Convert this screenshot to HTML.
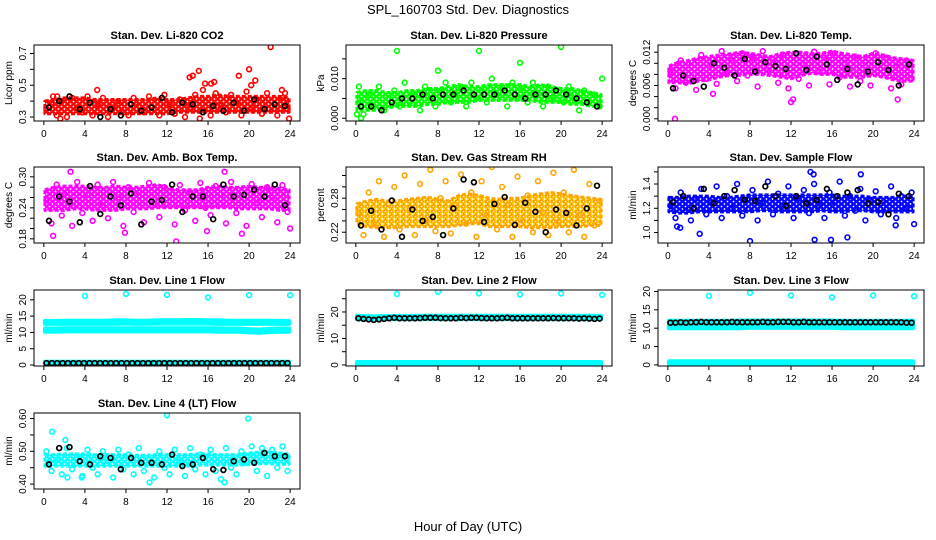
<!DOCTYPE html>
<html><head><meta charset="utf-8"><title>SPL_160703 Std. Dev. Diagnostics</title>
<style>
html,body{margin:0;padding:0;background:#fff;}
svg{display:block;font-family:"Liberation Sans",Arial,sans-serif;}
</style></head>
<body>
<svg id="chart" width="936" height="540" viewBox="0 0 936 540">
<defs id="defs"></defs>
<rect width="936" height="540" fill="#fff"/>
<text x="468" y="14" text-anchor="middle" font-size="13">SPL_160703  Std. Dev. Diagnostics</text>
<text x="468" y="531" text-anchor="middle" font-size="13">Hour of Day (UTC)</text>
</svg>
<script>
// ---- shared
const xTicks = [0,4,8,12,16,20,24];
const bandHours = [0,1,2,3,4,5,6,7,8,9,10,11,12,13,14,15,16,17,18,19,20,21,22,23,24];

// ---- CO2
const co2Lo = [0.32,0.32,0.32,0.32,0.32,0.32,0.32,0.32,0.32,0.32,0.32,0.32,0.32,0.33,0.33,0.33,0.33,0.33,0.33,0.33,0.33,0.33,0.33,0.33,0.33];
const co2Hi = [0.40,0.41,0.42,0.42,0.42,0.41,0.41,0.41,0.41,0.41,0.41,0.42,0.41,0.41,0.42,0.43,0.43,0.44,0.43,0.43,0.43,0.43,0.43,0.43,0.42];
const co2Pts = [0.35,0.39,0.31,0.40,0.30,0.42,0.36,0.33,0.43,0.31,0.38,0.42,0.30,0.36,0.40,0.33,0.31,0.42,0.37,0.33,0.43,0.35,0.31,0.44,0.38,0.32,0.41,0.30,0.36,0.44,0.34,0.40,0.31,0.45,0.37,0.33,0.44,0.39,0.31,0.46,0.36,0.41,0.32,0.45,0.37,0.31,0.42,0.35];
const co2Blk = [0.36,0.40,0.43,0.35,0.39,0.30,0.35,0.31,0.38,0.34,0.36,0.42,0.33,0.39,0.38,0.33,0.37,0.34,0.39,0.34,0.41,0.35,0.38,0.37];
const co2OutX = [5.2,14.2,14.5,15.1,15.5,15.7,16.3,16.6,19.0,20.0,20.2,20.6,22.1,23.2,23.5,0.9,1.3,23.9,15.2,1.6];
const co2OutY = [0.47,0.55,0.56,0.59,0.47,0.51,0.51,0.52,0.56,0.60,0.50,0.53,0.74,0.47,0.45,0.43,0.43,0.29,0.29,0.29];
const co2Ticks = [0.3,0.4,0.5,0.6,0.7];
const co2Labels = ["0.3","","0.5","","0.7"];

// ---- Pressure
const prLo = [0.002,0.002,0.002,0.0025,0.003,0.003,0.003,0.0035,0.0035,0.004,0.004,0.004,0.0045,0.0045,0.0045,0.0045,0.0045,0.0045,0.004,0.004,0.004,0.0035,0.0035,0.003,0.003];
const prHi = [0.0065,0.007,0.007,0.0065,0.0065,0.007,0.007,0.0075,0.0075,0.008,0.0085,0.008,0.008,0.0085,0.0085,0.0085,0.0085,0.008,0.0085,0.008,0.0075,0.0075,0.007,0.0065,0.006];
const prPts = [0.004,0.001,0.006,0.003,0.008,0.002,0.005,0.007,0.003,0.009,0.004,0.006,0.002,0.008,0.005,0.003,0.007,0.009,0.004,0.006,0.008,0.003,0.009,0.005,0.007,0.004,0.010,0.006,0.008,0.003,0.009,0.005,0.007,0.004,0.009,0.006,0.003,0.008,0.005,0.007,0.004,0.008,0.006,0.002,0.007,0.004,0.006,0.003];
const prBlk = [0.003,0.003,0.002,0.004,0.005,0.005,0.006,0.005,0.006,0.006,0.007,0.006,0.006,0.006,0.007,0.006,0.005,0.006,0.006,0.007,0.006,0.005,0.004,0.003];
const prOutX = [0.3,0.5,4,8,12,16,20,24,0.1];
const prOutY = [0.008,0.0,0.017,0.012,0.017,0.014,0.018,0.010,0.001];
const prTicks = [0,0.005,0.010,0.015];
const prLabels = ["0.000","","0.010",""];

// ---- Li-820 Temp
const tpLo = [0.0065,0.0065,0.0063,0.0068,0.007,0.0075,0.0078,0.0078,0.008,0.008,0.0078,0.0075,0.0072,0.0078,0.0082,0.008,0.008,0.0075,0.0075,0.0075,0.0078,0.0075,0.007,0.0068,0.0068];
const tpHi = [0.0095,0.0102,0.0105,0.011,0.0112,0.0115,0.0117,0.012,0.0118,0.0115,0.0112,0.0118,0.012,0.012,0.0118,0.0118,0.0122,0.0118,0.0115,0.0112,0.0118,0.0115,0.011,0.0108,0.0105];
const tpPts = [0.0085,0.0055,0.0105,0.0065,0.0095,0.0052,0.0115,0.0072,0.0098,0.0063,0.0122,0.0082,0.0105,0.0068,0.0118,0.0078,0.0108,0.0058,0.0122,0.0088,0.0102,0.0065,0.0115,0.0055,0.0112,0.0072,0.0098,0.0060,0.0121,0.0085,0.0110,0.0062,0.0118,0.0075,0.0106,0.0058,0.0112,0.0068,0.0102,0.0060,0.0118,0.0080,0.0110,0.0055,0.0095,0.0062,0.0105,0.0072];
const tpBlk = [0.0055,0.0078,0.0068,0.0058,0.0100,0.0092,0.0078,0.0108,0.0085,0.0102,0.0095,0.0090,0.0118,0.0088,0.0112,0.0098,0.0070,0.0090,0.0062,0.0085,0.0102,0.0088,0.0060,0.0098];
const tpOutX = [0.7,12.0,12.2,4.4,22.4];
const tpOutY = [0.0,0.0030,0.0035,0.0045,0.0035];
const tpTicks = [0,0.002,0.004,0.006,0.008,0.010,0.012];
const tpLabels = ["0.000","","","0.006","","","0.012"];

// ---- Amb box temp
const abLo = [0.235,0.235,0.235,0.238,0.238,0.235,0.235,0.235,0.238,0.238,0.238,0.24,0.24,0.24,0.24,0.24,0.24,0.24,0.24,0.238,0.238,0.238,0.238,0.235,0.235];
const abHi = [0.275,0.28,0.282,0.282,0.282,0.28,0.28,0.282,0.28,0.28,0.282,0.285,0.28,0.275,0.275,0.275,0.28,0.282,0.28,0.28,0.282,0.28,0.28,0.278,0.275];
const abPts = [0.255,0.21,0.285,0.225,0.27,0.205,0.29,0.23,0.265,0.215,0.285,0.245,0.22,0.29,0.26,0.205,0.28,0.232,0.27,0.212,0.288,0.25,0.222,0.28,0.262,0.208,0.284,0.235,0.27,0.215,0.288,0.24,0.226,0.282,0.258,0.21,0.29,0.23,0.27,0.205,0.286,0.25,0.222,0.28,0.26,0.212,0.284,0.232];
const abBlk = [0.215,0.262,0.252,0.212,0.282,0.228,0.262,0.245,0.268,0.208,0.252,0.255,0.285,0.232,0.262,0.262,0.218,0.285,0.262,0.265,0.275,0.262,0.285,0.245];
const abOutX = [0.9,2.6,12.9,17.6,19.3,24.0,15.9,7.9];
const abOutY = [0.186,0.310,0.175,0.310,0.190,0.200,0.195,0.192];
const abTicks = [0.18,0.20,0.22,0.24,0.26,0.28,0.30];
const abLabels = ["0.18","","","0.24","","","0.30"];

// ---- Gas stream RH
const rhLo = [0.235,0.23,0.228,0.228,0.228,0.23,0.23,0.23,0.23,0.23,0.232,0.235,0.235,0.23,0.23,0.23,0.23,0.228,0.228,0.228,0.23,0.23,0.23,0.232,0.232];
const rhHi = [0.27,0.275,0.278,0.275,0.275,0.278,0.28,0.282,0.278,0.275,0.285,0.288,0.285,0.28,0.278,0.28,0.28,0.285,0.288,0.29,0.288,0.285,0.282,0.28,0.278];
const rhPts = [0.255,0.215,0.29,0.235,0.31,0.212,0.27,0.3,0.225,0.32,0.26,0.215,0.305,0.24,0.33,0.222,0.28,0.31,0.218,0.268,0.322,0.235,0.29,0.212,0.31,0.25,0.335,0.225,0.3,0.268,0.212,0.318,0.24,0.285,0.22,0.31,0.255,0.215,0.325,0.238,0.29,0.22,0.33,0.25,0.212,0.305,0.232,0.275];
const rhBlk = [0.232,0.258,0.225,0.276,0.212,0.26,0.24,0.247,0.215,0.262,0.313,0.308,0.238,0.27,0.282,0.233,0.272,0.256,0.22,0.26,0.254,0.232,0.262,0.302];
const rhOutX = [];
const rhOutY = [];
const rhTicks = [0.22,0.24,0.26,0.28,0.30,0.32];
const rhLabels = ["0.22","","","0.28","",""];

// ---- Sample flow
const sfLo = [1.17,1.16,1.16,1.17,1.17,1.17,1.17,1.17,1.17,1.18,1.18,1.17,1.17,1.17,1.17,1.18,1.17,1.17,1.18,1.18,1.17,1.17,1.17,1.17,1.17];
const sfHi = [1.29,1.29,1.30,1.30,1.30,1.29,1.29,1.30,1.31,1.31,1.31,1.31,1.31,1.31,1.31,1.31,1.31,1.30,1.30,1.30,1.29,1.29,1.29,1.30,1.30];
const sfPts = [1.22,1.12,1.33,1.18,1.10,1.28,1.36,1.15,1.25,1.38,1.12,1.30,1.20,1.40,1.14,1.27,1.35,1.10,1.24,1.42,1.15,1.32,1.20,1.38,1.12,1.28,1.35,1.16,1.40,1.22,1.12,1.33,1.25,1.42,1.14,1.30,1.18,1.36,1.10,1.27,1.34,1.15,1.24,1.38,1.12,1.30,1.20,1.33];
const sfBlk = [1.25,1.30,1.20,1.36,1.24,1.30,1.35,1.27,1.26,1.38,1.30,1.22,1.30,1.24,1.27,1.36,1.30,1.33,1.35,1.24,1.25,1.15,1.32,1.30];
const sfOutX = [0.9,1.2,3.1,8.0,13.9,14.3,15.9,14.2,18.8,17.5,22.2,24.0];
const sfOutY = [1.05,1.04,0.99,0.93,1.50,0.94,0.94,1.48,1.48,0.96,1.06,1.07];
const sfTicks = [1.0,1.1,1.2,1.3,1.4,1.5];
const sfLabels = ["1.0","","1.2","","1.4",""];

// ---- Line 1 flow
const l1HiLo = [12.6,12.6,12.6,12.6,12.6,12.6,12.6,12.6,12.7,12.6,12.6,12.7,12.7,12.7,12.7,12.7,12.7,12.6,12.6,12.6,12.6,12.6,12.6,12.6,12.6];
const l1HiHi = [13.5,13.5,13.6,13.6,13.6,13.6,13.6,13.7,13.7,13.6,13.6,13.7,13.7,13.7,13.8,13.8,13.7,13.7,13.6,13.6,13.6,13.6,13.6,13.6,13.5];
const l1MidLo = [10.2,10.2,10.3,10.3,10.3,10.3,10.3,10.3,10.3,10.3,10.3,10.3,10.3,10.3,10.3,10.3,10.3,10.2,10.2,10.2,10.0,9.9,10.1,10.2,10.2];
const l1MidHi = [11.2,11.2,11.3,11.3,11.3,11.3,11.3,11.3,11.3,11.3,11.3,11.3,11.3,11.3,11.3,11.3,11.3,11.3,11.2,11.2,11.0,10.9,11.1,11.2,11.2];
const l1LowLo = [0.3,0.3,0.3,0.3,0.3,0.3,0.3,0.3,0.3,0.3,0.3,0.3,0.3,0.3,0.3,0.3,0.3,0.3,0.3,0.3,0.3,0.3,0.3,0.3,0.3];
const l1LowHi = [1.0,1.0,1.0,1.0,1.0,1.0,1.0,1.0,1.0,1.0,1.0,1.0,1.0,1.0,1.0,1.0,1.0,1.0,1.0,1.0,1.0,1.0,1.0,1.0,1.0];
const l1Blk = [0.6,0.6,0.6,0.6,0.6,0.6,0.6,0.6,0.6,0.6,0.6,0.6,0.6,0.6,0.6,0.6,0.6,0.6,0.6,0.6,0.6,0.6,0.6,0.6,0.6,0.6,0.6,0.6,0.6,0.6,0.6,0.6,0.6,0.6,0.6,0.6,0.6,0.6,0.6,0.6,0.6,0.6,0.6,0.6,0.6,0.6];
const l1OutX = [4,8,12,16,20,24];
const l1OutY = [21.2,21.8,21.5,20.7,21.4,21.4];
const l1Ticks = [0,5,10,15,20];
const l1Labels = ["0","5","10","15","20"];

// ---- Line 2 flow
const l2HiLo = [17.3,17.3,17.3,17.3,17.3,17.3,17.3,17.3,17.3,17.3,17.3,17.3,17.3,17.3,17.3,17.3,17.3,17.3,17.3,17.3,17.3,17.3,17.3,17.3,17.3];
const l2HiHi = [18.6,18.4,18.4,18.5,18.5,18.5,18.6,18.6,18.6,18.6,18.6,18.6,18.6,18.6,18.6,18.6,18.6,18.6,18.6,18.6,18.6,18.6,18.6,18.6,18.5];
const l2LowLo = [0.3,0.3,0.3,0.3,0.3,0.3,0.3,0.3,0.3,0.3,0.3,0.3,0.3,0.3,0.3,0.3,0.3,0.3,0.3,0.3,0.3,0.3,0.3,0.3,0.3];
const l2LowHi = [1.1,1.1,1.1,1.1,1.1,1.1,1.1,1.1,1.1,1.1,1.1,1.1,1.1,1.1,1.1,1.1,1.1,1.1,1.1,1.1,1.1,1.1,1.1,1.1,1.1];
const l2Blk = [17.6,17.4,17.2,17.0,17.2,17.4,17.6,17.8,17.6,17.6,17.6,17.6,17.7,17.8,17.8,17.8,17.7,17.6,17.6,17.6,17.8,17.7,17.8,17.8,17.7,17.6,17.6,17.6,17.7,17.8,17.6,17.6,17.6,17.6,17.6,17.6,17.6,17.6,17.7,17.6,17.6,17.6,17.6,17.5,17.6,17.5,17.4,17.5];
const l2OutX = [4,8,12,16,20,24];
const l2OutY = [26.8,27.6,27.0,26.6,27.0,26.5];
const l2Ticks = [0,5,10,15,20,25];
const l2Labels = ["0","","10","","20",""];

// ---- Line 3 flow
const l3HiLo = [10.0,10.0,10.0,10.0,10.0,10.0,10.0,10.0,10.1,10.1,10.1,10.1,10.1,10.1,10.1,10.1,10.1,10.0,10.0,10.0,10.0,10.0,10.0,10.0,10.0];
const l3HiHi = [12.0,12.0,12.0,12.0,12.0,12.0,12.0,12.1,12.1,12.1,12.1,12.1,12.1,12.1,12.1,12.1,12.1,12.0,12.0,12.0,12.0,12.0,12.0,12.0,12.0];
const l3LowLo = [0.3,0.3,0.3,0.3,0.3,0.3,0.3,0.3,0.3,0.3,0.3,0.3,0.3,0.3,0.3,0.3,0.3,0.3,0.3,0.3,0.3,0.3,0.3,0.3,0.3];
const l3LowHi = [1.0,1.0,1.0,1.0,1.0,1.0,1.0,1.0,1.0,1.0,1.0,1.0,1.0,1.0,1.0,1.0,1.0,1.0,1.0,1.0,1.0,1.0,1.0,1.0,1.0];
const l3Blk = [11.5,11.5,11.6,11.5,11.6,11.6,11.7,11.6,11.6,11.6,11.6,11.6,11.7,11.6,11.6,11.6,11.6,11.6,11.7,11.6,11.6,11.7,11.7,11.7,11.6,11.6,11.7,11.6,11.6,11.6,11.6,11.6,11.6,11.6,11.6,11.6,11.6,11.6,11.6,11.6,11.6,11.6,11.6,11.6,11.6,11.6,11.5,11.5];
const l3OutX = [4,8,12,16,20,24];
const l3OutY = [18.8,19.6,18.9,18.4,18.9,18.7];
const l3Ticks = [0,5,10,15,20];
const l3Labels = ["0","5","10","15","20"];

// ---- Line 4 (LT) flow
const l4Lo = [0.455,0.455,0.455,0.455,0.455,0.455,0.455,0.455,0.455,0.455,0.455,0.455,0.455,0.455,0.455,0.458,0.458,0.458,0.458,0.458,0.46,0.462,0.462,0.46,0.46];
const l4Hi = [0.49,0.49,0.492,0.492,0.492,0.49,0.49,0.49,0.49,0.488,0.488,0.49,0.49,0.49,0.49,0.492,0.492,0.49,0.49,0.49,0.495,0.498,0.498,0.495,0.492];
const l4Pts = [0.50,0.44,0.475,0.43,0.51,0.445,0.48,0.425,0.505,0.45,0.43,0.50,0.47,0.42,0.505,0.445,0.49,0.43,0.51,0.44,0.475,0.42,0.50,0.45,0.43,0.505,0.47,0.425,0.51,0.445,0.49,0.43,0.505,0.44,0.415,0.51,0.45,0.43,0.50,0.465,0.515,0.44,0.51,0.425,0.505,0.45,0.515,0.44];
const l4Blk = [0.46,0.51,0.513,0.47,0.46,0.485,0.48,0.445,0.48,0.465,0.465,0.46,0.49,0.455,0.46,0.48,0.445,0.443,0.47,0.475,0.465,0.495,0.485,0.485];
const l4OutX = [0.8,2.1,12.0,19.9,10.3,17.6,2.3,3.7];
const l4OutY = [0.560,0.535,0.610,0.600,0.405,0.405,0.420,0.420];
const l4Ticks = [0.40,0.45,0.50,0.55,0.60];
const l4Labels = ["0.40","","0.50","","0.60"];

// ---- layout (not data)
const colLeft = [34,346,658];
const rowTop = [45,167,290,413];
const PW = 266, PH = 76;
const XMIN = -0.96, XMAX = 24.96;

const panels = [
 {name:'co2', title:'Stan. Dev. Li-820 CO2', ylab:'Licor ppm', c:0, r:0, ymin:0.275, ymax:0.753, color:'#ff0000', bands:[[co2Lo,co2Hi]], pts:co2Pts, blk:co2Blk, ox:co2OutX, oy:co2OutY, ticks:co2Ticks, labels:co2Labels},
 {name:'pressure', title:'Stan. Dev. Li-820 Pressure', ylab:'kPa', c:1, r:0, ymin:-0.0007, ymax:0.0185, color:'#00ff00', bands:[[prLo,prHi]], pts:prPts, blk:prBlk, ox:prOutX, oy:prOutY, ticks:prTicks, labels:prLabels},
 {name:'li820-temp', title:'Stan. Dev. Li-820 Temp.', ylab:'degrees C', c:2, r:0, ymin:-0.0004, ymax:0.0133, color:'#ff00ff', bands:[[tpLo,tpHi]], pts:tpPts, blk:tpBlk, ox:tpOutX, oy:tpOutY, ticks:tpTicks, labels:tpLabels},
 {name:'amb-box-temp', title:'Stan. Dev. Amb. Box Temp.', ylab:'degrees C', c:0, r:1, ymin:0.172, ymax:0.319, color:'#ff00ff', bands:[[abLo,abHi]], pts:abPts, blk:abBlk, ox:abOutX, oy:abOutY, ticks:abTicks, labels:abLabels},
 {name:'gas-stream-rh', title:'Stan. Dev. Gas Stream RH', ylab:'percent', c:1, r:1, ymin:0.201, ymax:0.335, color:'#ffa500', rh:true, bands:[[rhLo,rhHi]], pts:rhPts, blk:rhBlk, ox:rhOutX, oy:rhOutY, ticks:rhTicks, labels:rhLabels},
 {name:'sample-flow', title:'Stan. Dev. Sample Flow', ylab:'ml/min', c:2, r:1, ymin:0.914, ymax:1.54, color:'#0000ff', bands:[[sfLo,sfHi]], pts:sfPts, blk:sfBlk, ox:sfOutX, oy:sfOutY, ticks:sfTicks, labels:sfLabels},
 {name:'line1-flow', title:'Stan. Dev. Line 1 Flow', ylab:'ml/min', c:0, r:2, ymin:-0.3, ymax:23.0, color:'#00ffff', solid:true, bands:[[l1HiLo,l1HiHi],[l1MidLo,l1MidHi],[l1LowLo,l1LowHi]], pts:[], blk:l1Blk, ox:l1OutX, oy:l1OutY, ticks:l1Ticks, labels:l1Labels},
 {name:'line2-flow', title:'Stan. Dev. Line 2 Flow', ylab:'ml/min', c:1, r:2, ymin:-0.4, ymax:28.3, color:'#00ffff', solid:true, bands:[[l2HiLo,l2HiHi],[l2LowLo,l2LowHi]], pts:[], blk:l2Blk, ox:l2OutX, oy:l2OutY, ticks:l2Ticks, labels:l2Labels},
 {name:'line3-flow', title:'Stan. Dev. Line 3 Flow', ylab:'ml/min', c:2, r:2, ymin:-0.3, ymax:20.4, color:'#00ffff', solid:true, bands:[[l3HiLo,l3HiHi],[l3LowLo,l3LowHi]], pts:[], blk:l3Blk, ox:l3OutX, oy:l3OutY, ticks:l3Ticks, labels:l3Labels},
 {name:'line4-flow', title:'Stan. Dev. Line 4 (LT) Flow', ylab:'ml/min', c:0, r:3, ymin:0.385, ymax:0.617, color:'#00ffff', bands:[[l4Lo,l4Hi]], pts:l4Pts, blk:l4Blk, ox:l4OutX, oy:l4OutY, ticks:l4Ticks, labels:l4Labels}
];

const NS = 'http://www.w3.org/2000/svg';
const svg = document.getElementById('chart');
const defs = document.getElementById('defs');
function mk(tag, attrs, parent){
  const e = document.createElementNS(NS, tag);
  for (const k in attrs) e.setAttribute(k, attrs[k]);
  parent.appendChild(e);
  return e;
}

// speckle patterns imitating overlapping open circles
function makePattern(id, c1, c2){
  const pt = mk('pattern', {id: id, width: 6, height: 5, patternUnits: 'userSpaceOnUse'}, defs);
  mk('rect', {width: 6, height: 5, fill: '#fff'}, pt);
  mk('circle', {cx: 1.5, cy: 1.5, r: 1.7, fill: 'none', stroke: c1, 'stroke-width': 1.6}, pt);
  mk('circle', {cx: 4.5, cy: 4, r: 1.7, fill: 'none', stroke: c2, 'stroke-width': 1.6}, pt);
  mk('circle', {cx: 4.5, cy: -1, r: 1.7, fill: 'none', stroke: c2, 'stroke-width': 1.6}, pt);
  mk('circle', {cx: 1.5, cy: 6.5, r: 1.7, fill: 'none', stroke: c1, 'stroke-width': 1.6}, pt);
  mk('circle', {cx: -1.5, cy: 4, r: 1.7, fill: 'none', stroke: c2, 'stroke-width': 1.6}, pt);
  mk('circle', {cx: 7.5, cy: 1.5, r: 1.7, fill: 'none', stroke: c1, 'stroke-width': 1.6}, pt);
}

panels.forEach(p => {
  const L = colLeft[p.c], T = rowTop[p.r];
  const sx = h => L + (h - XMIN) / (XMAX - XMIN) * PW;
  const sy = v => T + (p.ymax - v) / (p.ymax - p.ymin) * PH;
  let fill = p.color;
  if (!p.solid) {
    const pid = 'pat-' + p.name;
    if (p.rh) makePattern(pid, '#ff8c00', '#ffd700'); else makePattern(pid, p.color, p.color);
    fill = 'url(#' + pid + ')';
  }
  const g = mk('g', {}, svg);
  
  

  const clipId = 'clip-' + p.name;
  const cp = mk('clipPath', {id: clipId}, g);
  mk('rect', {x: L, y: T, width: PW, height: PH}, cp);
  const plot = mk('g', {'clip-path': 'url(#' + clipId + ')'}, g);
  
  

  p.bands.forEach((b, bi) => {
    const lo = b[0], hi = b[1];
    let d = '';
    bandHours.forEach((h, i) => { const x = Math.min(Math.max(h, 0.1), 23.9); d += (i ? 'L' : 'M') + sx(x).toFixed(1) + ',' + sy(hi[i]).toFixed(1); });
    for (let i = bandHours.length - 1; i >= 0; i--) { const x = Math.min(Math.max(bandHours[i], 0.1), 23.9); d += 'L' + sx(x).toFixed(1) + ',' + sy(lo[i]).toFixed(1); }
    d += 'Z';
    const band = mk('path', {d: d, fill: fill, stroke: p.rh ? '#ffa500' : p.color, 'stroke-width': p.solid ? 4 : 3, 'stroke-linejoin': 'round', 'stroke-dasharray': p.solid ? 'none' : '4 2'}, plot);
    
    
  });

  p.pts.forEach((v, i) => {
    const h = (i + 0.5) * 24 / p.pts.length;
    const c = mk('circle', {cx: sx(h).toFixed(1), cy: sy(v).toFixed(1), r: 2.4, fill: 'none', stroke: p.color, 'stroke-width': 1.6}, plot);
    
    
  });
  p.ox.forEach((h, i) => {
    const c = mk('circle', {cx: sx(h).toFixed(1), cy: sy(p.oy[i]).toFixed(1), r: 2.4, fill: 'none', stroke: p.color, 'stroke-width': 1.6}, plot);
    
    
  });
  p.blk.forEach((v, i) => {
    const h = (i + 0.5) * 24 / p.blk.length;
    const c = mk('circle', {cx: sx(h).toFixed(1), cy: sy(v).toFixed(1), r: 2.4, fill: 'none', stroke: '#000', 'stroke-width': 1.7}, plot);
    
    
  });

  const fr = mk('rect', {x: L, y: T, width: PW, height: PH, fill: 'none', stroke: '#000', 'stroke-width': 1}, g);
  
  

  const tt = mk('text', {x: L + PW / 2, y: T - 6, 'text-anchor': 'middle', 'font-size': 11, 'font-weight': 'bold'}, g);
  tt.textContent = p.title;
  
  

  const xa = mk('g', {}, g);
  
  
  const B = T + PH;
  mk('line', {x1: sx(xTicks[0]), x2: sx(xTicks[xTicks.length - 1]), y1: B, y2: B, stroke: '#000'}, xa);
  xTicks.forEach(t => {
    mk('line', {x1: sx(t), x2: sx(t), y1: B, y2: B + 4, stroke: '#000'}, xa);
    const lt = mk('text', {x: sx(t), y: B + 16, 'text-anchor': 'middle', 'font-size': 10}, xa);
    lt.textContent = t;
    
    
  });

  const ya = mk('g', {}, g);
  
  
  p.ticks.forEach((t, i) => {
    const y = sy(t);
    if (y < T - 0.5 || y > B + 0.5) return;
    mk('line', {x1: L - 4, x2: L, y1: y, y2: y, stroke: '#000'}, ya);
    if (p.labels[i]) {
      const lx = L - 8;
      const lt = mk('text', {x: lx, y: y, 'text-anchor': 'middle', 'font-size': 10, transform: 'rotate(-90 ' + lx + ' ' + y + ')'}, ya);
      lt.textContent = p.labels[i];
      
      
    }
  });
  const yx = L - 22, yy = T + PH / 2;
  const yt = mk('text', {x: yx, y: yy, 'text-anchor': 'middle', 'font-size': 10, transform: 'rotate(-90 ' + yx + ' ' + yy + ')'}, g);
  yt.textContent = p.ylab;
  
  
});
</script>
</body></html>
